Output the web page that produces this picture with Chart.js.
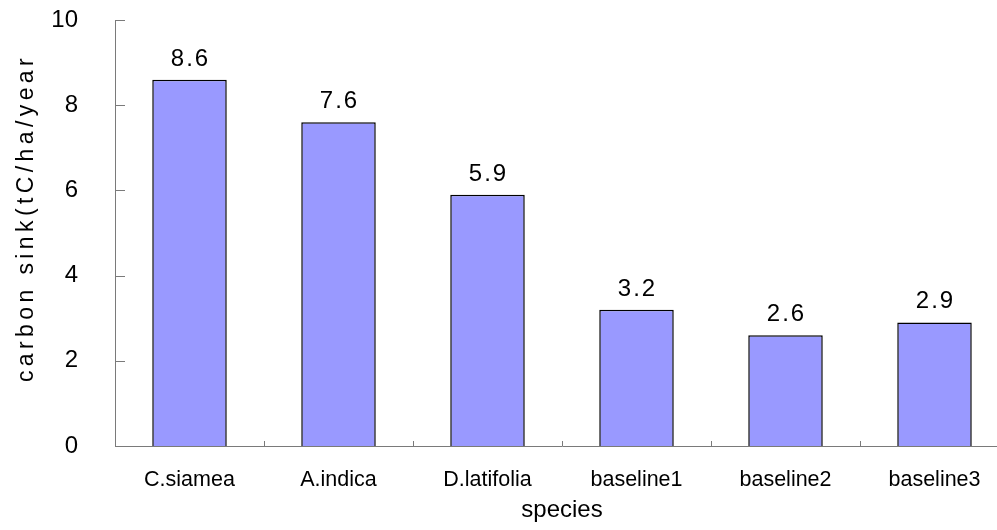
<!DOCTYPE html>
<html>
<head>
<meta charset="utf-8">
<script src="https://cdn.jsdelivr.net/npm/chart.js@4/dist/chart.umd.min.js"></script>
<style>
  html, body { margin: 0; padding: 0; background: #fff; overflow: hidden; width: 997px; height: 530px; }
  #wrap { width: 1009px; height: 530px; }
</style>
</head>
<body>
<div id="wrap"><canvas id="c" width="1009" height="530"></canvas></div>
<script>
// Annual carbon sink per species
const species = ['C.siamea', 'A.indica', 'D.latifolia', 'baseline1', 'baseline2', 'baseline3'];
const carbonSink = [8.6, 7.6, 5.9, 3.2, 2.6, 2.9];
const yTicks = [0, 2, 4, 6, 8, 10];
const yTitle = 'carbon sink(tC/ha/year';
const xTitle = 'species';

const FONT = '"Liberation Sans", Arial, sans-serif';
const AXIS = '#7a7a7a';

// Tick marks pointing into the plot area, value labels above bars, rotated y title
const decorations = {
  id: 'decorations',
  afterDraw(chart) {
    const ctx = chart.ctx;
    const x = chart.scales.x, y = chart.scales.y;
    const area = chart.chartArea;
    ctx.save();
    ctx.strokeStyle = AXIS;
    ctx.lineWidth = 1;
    // y ticks
    yTicks.forEach(v => {
      const py = Math.round(y.getPixelForValue(v)) + 0.5;
      ctx.beginPath();
      ctx.moveTo(area.left, py);
      ctx.lineTo(area.left + 10, py);
      ctx.stroke();
    });
    // x category boundaries
    for (let i = 0; i < species.length - 1; i++) {
      const px = Math.round((x.getPixelForValue(i) + x.getPixelForValue(i + 1)) / 2) + 0.5;
      ctx.beginPath();
      ctx.moveTo(px, area.bottom);
      ctx.lineTo(px, area.bottom - 5);
      ctx.stroke();
    }
    // value labels
    ctx.fillStyle = '#000';
    ctx.font = '24px ' + FONT;
    ctx.textAlign = 'center';
    ctx.textBaseline = 'alphabetic';
    ctx.letterSpacing = '2px';
    chart.getDatasetMeta(0).data.forEach((bar, i) => {
      ctx.fillText(carbonSink[i].toFixed(1), bar.x + 1, bar.y - 14);
    });
    // y axis title
    ctx.letterSpacing = '4.4px';
    ctx.font = '23px ' + FONT;
    ctx.translate(33, (area.top + area.bottom) / 2 - 15);
    ctx.rotate(-Math.PI / 2);
    ctx.textBaseline = 'alphabetic';
    ctx.fillText(yTitle, 0, 0);
    ctx.restore();
  }
};

new Chart(document.getElementById('c'), {
  type: 'bar',
  data: {
    labels: species,
    datasets: [{
      data: carbonSink,
      backgroundColor: '#9999FF',
      borderColor: '#000',
      borderWidth: 1.5,
      barPercentage: 0.5,
      categoryPercentage: 1.0
    }]
  },
  options: {
    responsive: false,
    animation: false,
    layout: { padding: { top: 20, right: 0, left: 0, bottom: 0 } },
    plugins: { legend: { display: false }, tooltip: { enabled: false } },
    scales: {
      x: {
        grid: { display: false, drawTicks: false },
        border: { display: true, color: AXIS, width: 1 },
        ticks: { color: '#000', font: { family: FONT, size: 21.5 }, padding: 21, maxRotation: 0, autoSkip: false },
        title: { display: true, text: xTitle, color: '#000', font: { family: FONT, size: 24 }, padding: { top: 0, bottom: 5 } },
        afterFit(scale) { scale.height = 84; }
      },
      y: {
        min: 0,
        max: 10,
        afterBuildTicks(scale) { scale.ticks = yTicks.map(v => ({ value: v })); },
        grid: { display: false, drawTicks: false },
        border: { display: true, color: AXIS, width: 1 },
        ticks: { color: '#000', font: { family: FONT, size: 24 }, padding: 37 },
        afterFit(scale) {
          scale.width = 115;
          scale.paddingTop = 0;
          scale.paddingBottom = 0;
        }
      }
    }
  },
  plugins: [decorations]
});
</script>
</body>
</html>
